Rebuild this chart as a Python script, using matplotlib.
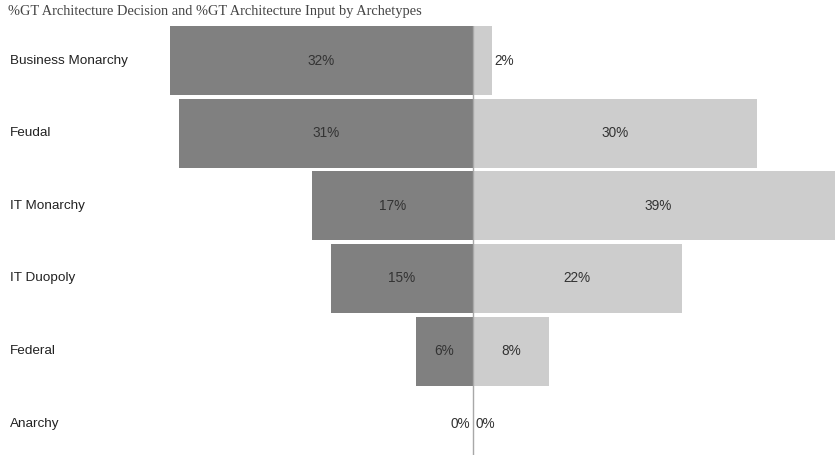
import matplotlib
matplotlib.use('Agg')
import matplotlib.pyplot as plt
from matplotlib.transforms import blended_transform_factory

categories = ['Business Monarchy', 'Feudal', 'IT Monarchy', 'IT Duopoly',
              'Federal', 'Anarchy']
decision = [32, 31, 17, 15, 6, 0]   # %GT Architecture Decision (left)
inputs   = [2, 30, 39, 22, 8, 0]    # %GT Architecture Input (right)

dark  = '#808080'
light = '#cdcdcd'
txt   = '#333333'

fig = plt.figure(figsize=(8.35, 4.55), dpi=100)
W, H = 835, 455
left_px, top_px = 140, 26
ax = fig.add_axes([left_px / W, 0, 1 - left_px / W, (H - top_px) / H])

y = list(range(len(categories)))
ax.barh(y, [-v for v in decision], height=0.95, color=dark, zorder=2)
ax.barh(y, inputs, height=0.95, color=light, zorder=2)
ax.axvline(0, color='#a8a8a8', linewidth=1, zorder=3)

scale = 9.48  # pixels per percent
ax.set_xlim(-(473 - left_px) / scale, (W - 473) / scale)
ax.set_ylim(5.43, -0.475)

lab = dict(va='center', fontsize=9.8, color=txt, family='Liberation Sans',
           zorder=4)
for i, v in enumerate(decision):
    if v >= 4:
        ax.text(-v / 2, i, f'{v}%', ha='center', **lab)
    else:
        ax.text(-v - 0.3, i, f'{v}%', ha='right', **lab)
for i, v in enumerate(inputs):
    if v >= 4:
        ax.text(v / 2, i, f'{v}%', ha='center', **lab)
    else:
        ax.text(v + 0.3, i, f'{v}%', ha='left', **lab)

trans = blended_transform_factory(fig.transFigure, ax.transData)
for i, c in enumerate(categories):
    ax.text(10 / W, i, c, transform=trans, ha='left', va='center',
            fontsize=9.7, color='#222222', family='Liberation Sans')

ax.axis('off')

fig.text(8 / W, 1 - 12 / H,
         '%GT Architecture Decision and %GT Architecture Input by Archetypes',
         ha='left', va='center', fontsize=10.35, color='#444444',
         family='Liberation Serif')

fig.savefig('out.png', dpi=100)
